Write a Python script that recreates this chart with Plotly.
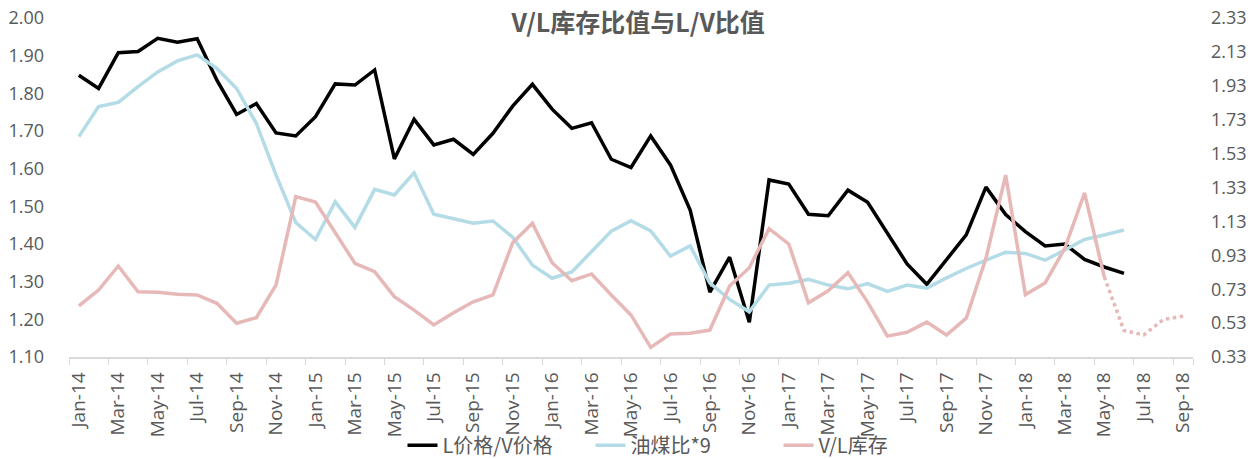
import plotly.graph_objects as go

months = ["Jan", "Feb", "Mar", "Apr", "May", "Jun", "Jul", "Aug", "Sep", "Oct", "Nov", "Dec"]
dates = [f"{m}-{y}" for y in range(14, 19) for m in months][:57]  # Jan-14 .. Sep-18

# L价格/V价格 (left axis), Jan-14 .. Jun-18
lv_price = [1.848, 1.813, 1.908, 1.911, 1.946, 1.936, 1.945, 1.835, 1.744, 1.773,
            1.695, 1.687, 1.738, 1.825, 1.822, 1.862, 1.626, 1.731, 1.663, 1.678,
            1.638, 1.694, 1.766, 1.824, 1.758, 1.707, 1.722, 1.625, 1.603, 1.687,
            1.610, 1.490, 1.272, 1.365, 1.192, 1.570, 1.559, 1.479, 1.475, 1.543,
            1.511, 1.429, 1.347, 1.293, 1.357, 1.424, 1.551, 1.478, 1.433, 1.395,
            1.400, 1.359, 1.339, 1.322]

# 油煤比*9 (left axis), Jan-14 .. Jun-18
oil_coal = [1.685, 1.765, 1.776, 1.818, 1.857, 1.886, 1.902, 1.866, 1.813, 1.720,
            1.583, 1.457, 1.412, 1.512, 1.444, 1.545, 1.530, 1.589, 1.479, 1.468,
            1.455, 1.461, 1.418, 1.344, 1.309, 1.326, 1.380, 1.434, 1.462, 1.435,
            1.368, 1.395, 1.296, 1.253, 1.220, 1.291, 1.296, 1.306, 1.291, 1.281,
            1.295, 1.274, 1.291, 1.283, 1.310, 1.335, 1.357, 1.378, 1.375, 1.357,
            1.384, 1.412, 1.424, 1.437]

# V/L库存 (right axis), actual Jan-14 .. May-18
vl_stock = [0.631, 0.725, 0.867, 0.715, 0.712, 0.700, 0.696, 0.647, 0.529, 0.562,
            0.755, 1.276, 1.244, 1.060, 0.883, 0.833, 0.686, 0.607, 0.519, 0.591,
            0.656, 0.696, 1.004, 1.119, 0.886, 0.780, 0.820, 0.696, 0.578, 0.387,
            0.466, 0.470, 0.489, 0.749, 0.857, 1.087, 0.997, 0.650, 0.721, 0.828,
            0.654, 0.453, 0.476, 0.536, 0.460, 0.559, 0.912, 1.403, 0.698, 0.767,
            0.971, 1.298, 0.803]

# V/L库存 dotted part, May-18 .. Sep-18
vl_stock_proj = [0.803, 0.486, 0.460, 0.551, 0.571]

GRAY = "#595959"
TICK_FONT = dict(family="Open Sans", size=19, color=GRAY)
YTICK_FONT = dict(family="Open Sans", size=18, color=GRAY)

fig = go.Figure()
fig.add_trace(go.Scatter(x=dates[:len(lv_price)], y=lv_price, name="L价格/V价格",
                         mode="lines", line=dict(color="#000000", width=3.5)))
fig.add_trace(go.Scatter(x=dates[:len(oil_coal)], y=oil_coal, name="油煤比*9",
                         mode="lines", line=dict(color="#b4dce7", width=3.5)))
fig.add_trace(go.Scatter(x=dates[:len(vl_stock)], y=vl_stock, name="V/L库存",
                         mode="lines", line=dict(color="#e6b9b8", width=3.5), yaxis="y2"))
fig.add_trace(go.Scatter(x=dates[52:57], y=vl_stock_proj, name="V/L库存",
                         mode="lines", line=dict(color="#e6b9b8", width=3.5, dash="dot"),
                         yaxis="y2", showlegend=False))

# page body has an 8px margin, so the figure is sized to the visible part
fig.update_layout(
    width=1248, height=451,
    margin=dict(l=61, r=63, t=10, b=102, autoexpand=False),
    plot_bgcolor="white", paper_bgcolor="white",
    title=dict(text="<b>V/L库存比值与L/V比值</b>", x=0.505, xanchor="center",
               y=0.967, yanchor="middle",
               font=dict(family="Noto Sans CJK SC", size=25, color=GRAY)),
    xaxis=dict(type="category", categoryorder="array", categoryarray=dates,
               range=[-0.5, 56.5], tickmode="array", tickvals=dates[::2],
               tickson="boundaries", ticks="outside", ticklen=6, tickcolor="#d9d9d9",
               showline=True, linecolor="#d9d9d9", linewidth=1.5,
               showgrid=False, tickangle=-90, tickfont=TICK_FONT,
               ticklabelstandoff=6, automargin=False),
    yaxis=dict(range=[1.10, 2.00], tick0=1.10, dtick=0.1, tickformat=".2f",
               showgrid=False, zeroline=False, showline=False,
               ticklabelstandoff=24, tickfont=YTICK_FONT, automargin=False,
               ticklabeloverflow="allow"),
    yaxis2=dict(range=[0.33, 2.33], tick0=0.33, dtick=0.2, tickformat=".2f",
                overlaying="y", side="right", showgrid=False, zeroline=False,
                showline=False, ticklabelstandoff=17, tickfont=YTICK_FONT,
                automargin=False, ticklabeloverflow="allow"),
    legend=dict(orientation="h", x=0.2967, xanchor="left", y=-0.26, yanchor="middle",
                bgcolor="rgba(0,0,0,0)",
                font=dict(family="Noto Sans CJK SC", size=20, color=GRAY),
                entrywidth=143, entrywidthmode="pixels", traceorder="normal"),
)

fig.write_html("out.html")
